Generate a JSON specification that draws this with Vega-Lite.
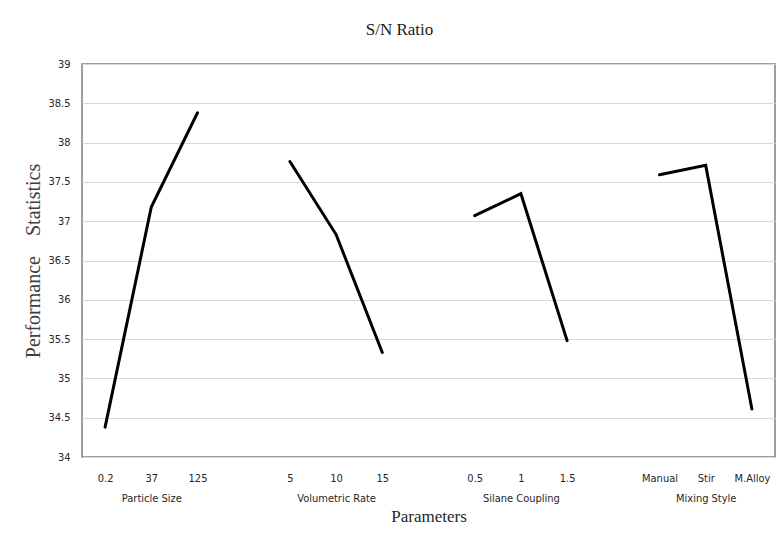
{
  "$schema": "https://vega.github.io/schema/vega-lite/v6.json",
  "width": 693,
  "height": 393,
  "autosize": {"type": "none"},
  "padding": {"left": 82, "top": 64, "right": 5, "bottom": 76},
  "background": "white",
  "title": {
    "text": "S/N Ratio",
    "font": "Liberation Serif",
    "fontSize": 17,
    "fontWeight": "normal",
    "color": "#1a1a1a",
    "anchor": "middle",
    "dx": -29,
    "offset": 19
  },
  "data": {
    "values": [
      {"group": "Particle Size", "idx": 0, "level": "0.2", "value": 34.38},
      {"group": "Particle Size", "idx": 1, "level": "37", "value": 37.18},
      {"group": "Particle Size", "idx": 2, "level": "125", "value": 38.38},
      {"group": "Volumetric Rate", "idx": 4, "level": "5", "value": 37.76},
      {"group": "Volumetric Rate", "idx": 5, "level": "10", "value": 36.83},
      {"group": "Volumetric Rate", "idx": 6, "level": "15", "value": 35.33},
      {"group": "Silane Coupling", "idx": 8, "level": "0.5", "value": 37.07},
      {"group": "Silane Coupling", "idx": 9, "level": "1", "value": 37.35},
      {"group": "Silane Coupling", "idx": 10, "level": "1.5", "value": 35.48},
      {"group": "Mixing Style", "idx": 12, "level": "Manual", "value": 37.59},
      {"group": "Mixing Style", "idx": 13, "level": "Stir", "value": 37.71},
      {"group": "Mixing Style", "idx": 14, "level": "M.Alloy", "value": 34.61}
    ]
  },
  "mark": {"type": "line", "color": "black", "strokeWidth": 3, "strokeCap": "round"},
  "encoding": {
    "x": {
      "field": "idx",
      "type": "quantitative",
      "scale": {"domain": [-0.5, 14.5], "nice": false, "zero": false},
      "axis": {
        "title": "Parameters",
        "values": [0, 1, 2, 4, 5, 6, 8, 9, 10, 12, 13, 14],
        "labelExpr": "datum.value == 0 ? '0.2' : datum.value == 1 ? ['37', 'Particle Size'] : datum.value == 2 ? '125' : datum.value == 4 ? '5' : datum.value == 5 ? ['10', 'Volumetric Rate'] : datum.value == 6 ? '15' : datum.value == 8 ? '0.5' : datum.value == 9 ? ['1', 'Silane Coupling'] : datum.value == 10 ? '1.5' : datum.value == 12 ? 'Manual' : datum.value == 13 ? ['Stir', 'Mixing Style'] : 'M.Alloy'",
        "labelBaseline": "top",
        "labelLineHeight": 20,
        "labelFlush": false,
        "labelOverlap": false,
        "grid": false,
        "ticks": false,
        "domain": false,
        "labelPadding": 15,
        "titlePadding": 5,
        "titleFontSize": 17
      }
    },
    "y": {
      "field": "value",
      "type": "quantitative",
      "scale": {"domain": [34, 39], "nice": false, "zero": false},
      "axis": {
        "title": "Performance\u00a0\u00a0\u00a0\u00a0Statistics",
        "titleFontSize": 20,
        "titleColor": "#404040",
        "values": [34, 34.5, 35, 35.5, 36, 36.5, 37, 37.5, 38, 38.5, 39],
        "format": "~g",
        "grid": true,
        "ticks": false,
        "domain": false,
        "labelPadding": 12,
        "titlePadding": 4
      }
    },
    "detail": {"field": "group"}
  },
  "config": {
    "view": {"stroke": "#7f7f7f", "strokeWidth": 1.5},
    "axis": {
      "labelFont": "DejaVu Sans Condensed",
      "labelFontSize": 11,
      "labelColor": "#262626",
      "titleFont": "Liberation Serif",
      "titleFontWeight": "normal",
      "titleColor": "#262626",
      "gridColor": "#d9d9d9",
      "gridWidth": 1.2
    }
  }
}
